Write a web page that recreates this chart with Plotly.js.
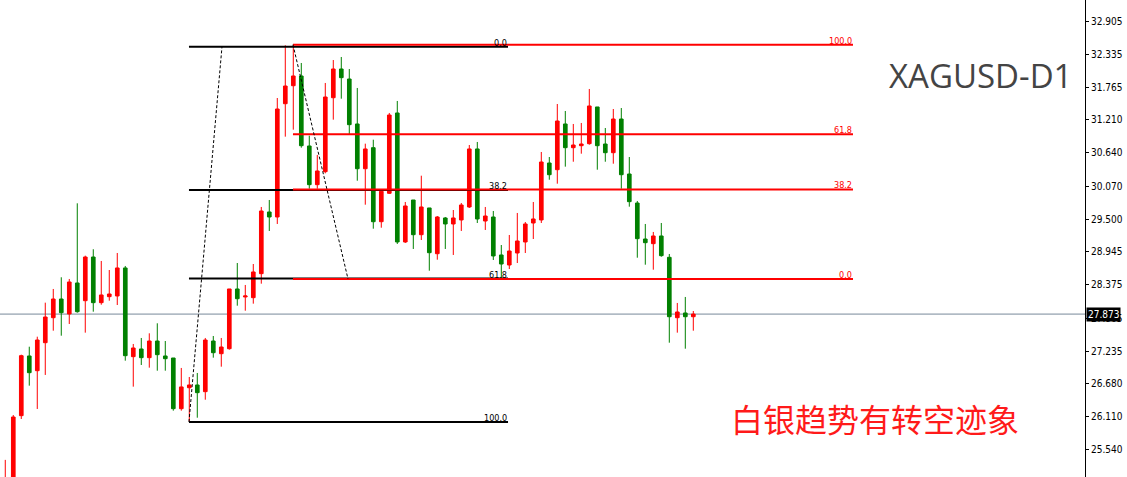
<!DOCTYPE html>
<html>
<head>
<meta charset="utf-8">
<script src="https://cdn.plot.ly/plotly-3.0.1.min.js"></script>
<style>html,body{margin:0;padding:0;background:#fff;}#chart{width:1127px;height:477px;}</style>
</head>
<body>
<div id="chart"></div>
<script>
// Daily XAGUSD candles, oldest first
const opens  = [24.70,24.95,26.129,27.154,26.901,27.382,27.811,28.132,27.875,28.407,28.103,28.853,28.069,28.172,28.184,28.665,27.142,27.274,27.125,27.411,27.154,27.119,26.249,26.609,26.656,26.541,27.411,27.193,27.279,28.304,28.167,28.155,28.567,29.626,29.540,31.485,31.794,31.961,30.759,30.095,30.318,31.588,32.081,31.909,31.137,30.369,30.730,29.459,29.947,31.326,29.111,29.832,29.236,29.695,28.910,29.523,29.420,29.489,29.712,30.708,29.471,29.540,28.888,28.716,28.922,29.111,29.437,29.489,30.467,30.352,31.137,30.730,30.764,30.799,31.429,30.793,30.644,31.222,30.278,29.780,29.162,29.082,29.214,28.848,27.811,27.892,27.828];
const highs  = [25.37,26.14,27.176,27.313,27.485,28.069,28.304,28.505,28.476,29.775,28.876,28.986,28.785,28.630,28.922,28.699,27.360,27.463,27.543,27.715,27.411,27.119,26.948,26.793,26.862,27.463,27.497,27.463,28.304,28.750,28.373,28.733,29.712,29.832,31.583,32.488,32.488,32.184,30.936,30.605,31.841,32.235,32.287,32.081,31.755,30.799,30.867,29.990,31.326,31.532,29.798,29.832,30.249,29.695,29.557,29.540,29.660,29.780,30.776,30.828,29.712,29.643,29.059,29.231,29.609,29.454,29.798,30.656,30.570,31.480,31.360,31.137,31.154,31.738,31.429,31.068,31.394,31.411,30.570,29.815,29.420,29.283,29.437,28.905,28.064,28.167,27.926];
const lows   = [24.60,24.90,26.072,26.644,26.244,26.828,27.588,27.502,27.703,27.897,27.554,27.914,28.034,28.103,28.029,27.073,26.627,26.999,26.953,26.901,26.901,26.215,26.215,26.026,26.094,26.403,27.125,26.970,27.262,28.017,27.931,28.052,28.395,29.300,29.420,30.919,31.039,30.730,30.026,30.026,30.290,31.211,31.571,30.965,30.163,29.751,29.339,29.356,29.935,29.077,29.094,28.991,29.145,28.618,28.807,28.991,28.888,29.300,29.695,29.437,29.317,28.802,28.476,28.647,28.750,28.922,29.162,29.437,30.180,30.112,30.404,30.489,30.627,30.781,30.352,30.489,30.455,30.026,29.717,28.841,28.721,28.635,28.858,27.382,27.554,27.279,27.588];
const closes = [25.00,26.106,27.159,26.867,27.428,27.823,28.132,27.897,28.424,27.914,28.853,28.069,28.201,28.218,28.665,27.159,27.291,27.125,27.411,27.176,27.107,26.249,26.622,26.656,26.524,27.428,27.210,27.308,28.304,28.137,28.184,28.596,29.643,29.540,31.394,31.789,31.961,30.764,30.095,30.330,31.600,32.081,31.932,31.125,30.369,30.708,29.459,29.981,31.291,29.111,29.729,29.236,29.712,28.927,29.540,29.420,29.523,29.746,30.708,29.506,29.557,28.871,28.733,28.956,29.128,29.420,29.506,30.484,30.266,31.188,30.730,30.776,30.793,31.446,30.764,30.644,31.222,30.266,29.803,29.168,29.099,29.214,28.876,27.828,27.909,27.828,27.873];

// Right price axis tick labels
const tickValues = [32.905,32.335,31.765,31.210,30.640,30.070,29.500,28.945,28.375,27.805,27.235,26.680,26.110,25.540];
const tickLabels = ["32.905","32.335","31.765","31.210","30.640","30.070","29.500","28.945","28.375","27.805","27.235","26.680","26.110","25.540"];

// Fibonacci retracements (anchors in bar index / price)
const fibLevels = [0, 38.2, 61.8, 100];
const fibLabels = ["0.0", "38.2", "61.8", "100.0"];
const blackFibX = [22.96, 62.84];          // level lines start / end
const blackFibPrice = [32.464, 26.021];    // price at 0.0 and at 100.0
const blackFibTrendX = [22.96, 27.09];
const blackFibTrendY = [26.021, 32.464];
const redFibX = [35.96, 105.96];
const redFibPrice = [28.476, 32.498];      // price at 0.0 and at 100.0
const redFibTrendX = [35.96, 42.84];
const redFibTrendY = [32.498, 28.476];

const symbolTitle = "XAGUSD-D1";
const noteText = "白银趋势有转空迹象";

const bars = opens.map((_, i) => i);
const lastPrice = closes[closes.length - 1];

const traces = [];
traces.push({
  type: 'candlestick', x: bars, open: opens, high: highs, low: lows, close: closes,
  increasing: {line: {color: '#ff0000', width: 1}, fillcolor: '#ff0000'},
  decreasing: {line: {color: '#008000', width: 1}, fillcolor: '#008000'},
  whiskerwidth: 0, hoverinfo: 'skip', showlegend: false
});

function levelPrice(prices, lvl) { return prices[0] + (prices[1] - prices[0]) * lvl / 100; }

const labelFont = 'DejaVu Sans Condensed, Liberation Sans, Arial, sans-serif';
const annotations = [];
fibLevels.forEach((lvl, j) => {
  const pb = levelPrice(blackFibPrice, lvl);
  traces.push({type: 'scatter', mode: 'lines', x: blackFibX, y: [pb, pb],
    line: {color: '#000000', width: 2}, hoverinfo: 'skip', showlegend: false});
  annotations.push({x: blackFibX[1], y: pb, xref: 'x', yref: 'y', text: fibLabels[j],
    showarrow: false, xanchor: 'right', yanchor: 'bottom', yshift: -2, borderpad: 0,
    font: {family: labelFont, size: 9, color: '#000000'}});
});
traces.push({type: 'scatter', mode: 'lines', x: blackFibTrendX, y: blackFibTrendY,
  line: {color: '#000000', width: 1, dash: '3px,2px'}, hoverinfo: 'skip', showlegend: false});

fibLevels.forEach((lvl, j) => {
  const pr = levelPrice(redFibPrice, lvl);
  traces.push({type: 'scatter', mode: 'lines', x: redFibX, y: [pr, pr],
    line: {color: '#ff0000', width: 2}, hoverinfo: 'skip', showlegend: false});
  annotations.push({x: redFibX[1], y: pr, xref: 'x', yref: 'y', text: fibLabels[j],
    showarrow: false, xanchor: 'right', yanchor: 'bottom', yshift: -2, borderpad: 0,
    font: {family: labelFont, size: 9, color: '#ff0000'}});
});
traces.push({type: 'scatter', mode: 'lines', x: redFibTrendX, y: redFibTrendY,
  line: {color: '#000000', width: 1, dash: '3px,2px'}, hoverinfo: 'skip', showlegend: false});

annotations.push({x: 1, y: lastPrice, xref: 'paper', yref: 'y', text: lastPrice.toFixed(3),
  showarrow: false, xanchor: 'left', yanchor: 'middle', xshift: 1, bgcolor: '#000000', borderpad: 1,
  font: {family: 'DejaVu Sans Condensed, Liberation Sans, sans-serif', size: 10, color: '#ffffff'}});
annotations.push({x: 0.9895, y: 0.842, xref: 'paper', yref: 'paper', text: symbolTitle,
  showarrow: false, xanchor: 'right', yanchor: 'middle',
  font: {family: 'Open Sans, Noto Sans, sans-serif', size: 33, color: '#444444'}});
annotations.push({x: 0.6715, y: 0.124, xref: 'paper', yref: 'paper', text: noteText,
  showarrow: false, xanchor: 'left', yanchor: 'middle',
  font: {family: 'Noto Sans CJK SC, sans-serif', size: 32, color: '#ff1a1a'}});

const layout = {
  width: 1127, height: 477,
  margin: {l: 0, r: 42, t: 0, b: 0, pad: 0},
  paper_bgcolor: '#ffffff', plot_bgcolor: '#ffffff',
  showlegend: false, boxgap: 0.35,
  xaxis: {range: [-0.66, 134.96], visible: false, rangeslider: {visible: false}, fixedrange: true},
  yaxis: {range: [25.076, 33.2655], side: 'right', showgrid: false, zeroline: false,
    showline: true, linecolor: '#000000', linewidth: 1, mirror: false,
    ticks: 'outside', ticklen: 3, tickcolor: '#000000', tickwidth: 1,
    tickmode: 'array', tickvals: tickValues, ticktext: tickLabels,
    tickfont: {family: 'DejaVu Sans Condensed, Liberation Sans, sans-serif', size: 10, color: '#000000'},
    fixedrange: true},
  shapes: [{type: 'line', xref: 'paper', x0: 0, x1: 1, yref: 'y', y0: lastPrice, y1: lastPrice,
    line: {color: '#778899', width: 1}, layer: 'below'}],
  annotations: annotations
};

Plotly.newPlot('chart', traces, layout, {staticPlot: true, displayModeBar: false});
</script>
</body>
</html>
